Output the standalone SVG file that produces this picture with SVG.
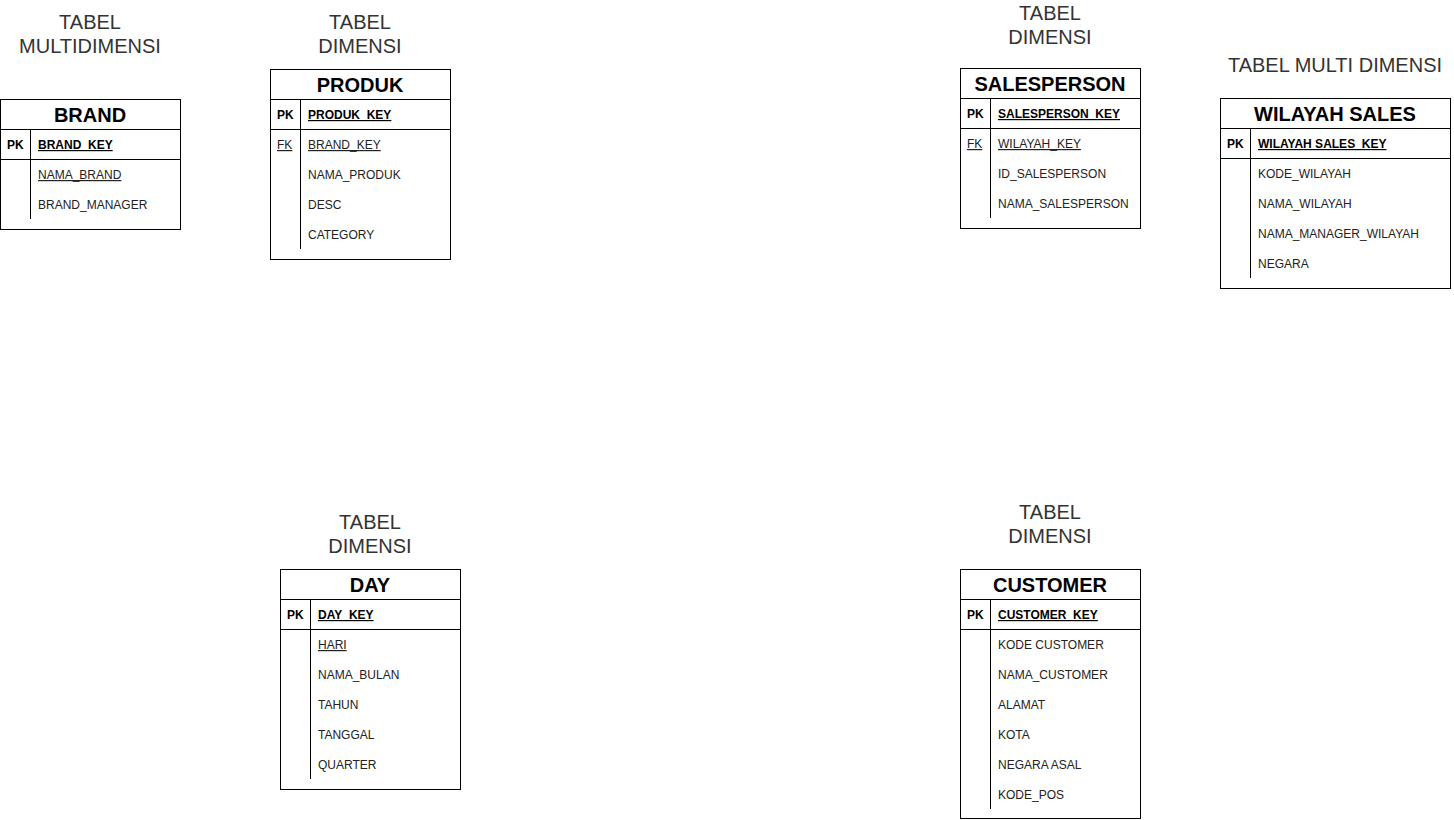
<svg xmlns="http://www.w3.org/2000/svg" width="1454" height="820" viewBox="0 0 1454 820">
<style>
.bg{fill:#fff}
.box{fill:#fff;stroke:#000;stroke-width:1}
.ln{stroke:#000;stroke-width:1;fill:none}
.hd{font-family:"Liberation Sans",Arial,sans-serif;font-size:20px;font-weight:bold;fill:#000;text-anchor:middle}
.cap{font-family:"Liberation Sans",Arial,sans-serif;font-size:20px;fill:#333;text-anchor:middle}
.k{font-family:"Liberation Sans",Arial,sans-serif;font-size:12px;fill:#000;font-weight:bold}
.pk{font-family:"Liberation Sans",Arial,sans-serif;font-size:12px;fill:#000;font-weight:bold;text-decoration:underline}
.a{font-family:"Liberation Sans",Arial,sans-serif;font-size:12px;fill:#222}
.u{text-decoration:underline}
</style>
<rect class="bg" x="0" y="0" width="1454" height="820"/>
<g id="captions">
<text class="cap" x="90" y="29">TABEL</text>
<text class="cap" x="90" y="53">MULTIDIMENSI</text>
<text class="cap" x="360" y="29">TABEL</text>
<text class="cap" x="360" y="53">DIMENSI</text>
<text class="cap" x="1050" y="20">TABEL</text>
<text class="cap" x="1050" y="44">DIMENSI</text>
<text class="cap" x="1335" y="72">TABEL MULTI DIMENSI</text>
<text class="cap" x="370" y="529">TABEL</text>
<text class="cap" x="370" y="553">DIMENSI</text>
<text class="cap" x="1050" y="519">TABEL</text>
<text class="cap" x="1050" y="543">DIMENSI</text>
</g>
<g id="brand">
<rect class="box" x="0.5" y="99.5" width="180" height="130"/>
<line class="ln" x1="0.5" y1="129.5" x2="180.5" y2="129.5"/>
<line class="ln" x1="0.5" y1="159.5" x2="180.5" y2="159.5"/>
<line class="ln" x1="30.5" y1="129.5" x2="30.5" y2="219"/>
<text class="hd" x="90" y="122">BRAND</text>
<text class="k" x="7" y="149">PK</text>
<text class="pk" x="38" y="149">BRAND_KEY</text>
<text class="a u" x="38" y="179">NAMA_BRAND</text>
<text class="a" x="38" y="209">BRAND_MANAGER</text>
</g>
<g id="produk">
<rect class="box" x="270.5" y="69.5" width="180" height="190"/>
<line class="ln" x1="270.5" y1="99.5" x2="450.5" y2="99.5"/>
<line class="ln" x1="270.5" y1="129.5" x2="450.5" y2="129.5"/>
<line class="ln" x1="300.5" y1="99.5" x2="300.5" y2="249"/>
<text class="hd" x="360" y="92">PRODUK</text>
<text class="k" x="277" y="119">PK</text>
<text class="pk" x="308" y="119">PRODUK_KEY</text>
<text class="a u" x="277" y="149">FK</text>
<text class="a u" x="308" y="149">BRAND_KEY</text>
<text class="a" x="308" y="179">NAMA_PRODUK</text>
<text class="a" x="308" y="209">DESC</text>
<text class="a" x="308" y="239">CATEGORY</text>
</g>
<g id="salesperson">
<rect class="box" x="960.5" y="68.5" width="180" height="160"/>
<line class="ln" x1="960.5" y1="98.5" x2="1140.5" y2="98.5"/>
<line class="ln" x1="960.5" y1="128.5" x2="1140.5" y2="128.5"/>
<line class="ln" x1="990.5" y1="98.5" x2="990.5" y2="218"/>
<text class="hd" x="1050" y="91">SALESPERSON</text>
<text class="k" x="967" y="118">PK</text>
<text class="pk" x="998" y="118">SALESPERSON_KEY</text>
<text class="a u" x="967" y="148">FK</text>
<text class="a u" x="998" y="148">WILAYAH_KEY</text>
<text class="a" x="998" y="178">ID_SALESPERSON</text>
<text class="a" x="998" y="208">NAMA_SALESPERSON</text>
</g>
<g id="wilayah-sales">
<rect class="box" x="1220.5" y="98.5" width="230" height="190"/>
<line class="ln" x1="1220.5" y1="128.5" x2="1450.5" y2="128.5"/>
<line class="ln" x1="1220.5" y1="158.5" x2="1450.5" y2="158.5"/>
<line class="ln" x1="1250.5" y1="128.5" x2="1250.5" y2="278"/>
<text class="hd" x="1335" y="121">WILAYAH SALES</text>
<text class="k" x="1227" y="148">PK</text>
<text class="pk" x="1258" y="148">WILAYAH SALES_KEY</text>
<text class="a" x="1258" y="178">KODE_WILAYAH</text>
<text class="a" x="1258" y="208">NAMA_WILAYAH</text>
<text class="a" x="1258" y="238">NAMA_MANAGER_WILAYAH</text>
<text class="a" x="1258" y="268">NEGARA</text>
</g>
<g id="day">
<rect class="box" x="280.5" y="569.5" width="180" height="220"/>
<line class="ln" x1="280.5" y1="599.5" x2="460.5" y2="599.5"/>
<line class="ln" x1="280.5" y1="629.5" x2="460.5" y2="629.5"/>
<line class="ln" x1="310.5" y1="599.5" x2="310.5" y2="779"/>
<text class="hd" x="370" y="592">DAY</text>
<text class="k" x="287" y="619">PK</text>
<text class="pk" x="318" y="619">DAY_KEY</text>
<text class="a u" x="318" y="649">HARI</text>
<text class="a" x="318" y="679">NAMA_BULAN</text>
<text class="a" x="318" y="709">TAHUN</text>
<text class="a" x="318" y="739">TANGGAL</text>
<text class="a" x="318" y="769">QUARTER</text>
</g>
<g id="customer">
<rect class="box" x="960.5" y="569.5" width="180" height="249"/>
<line class="ln" x1="960.5" y1="599.5" x2="1140.5" y2="599.5"/>
<line class="ln" x1="960.5" y1="629.5" x2="1140.5" y2="629.5"/>
<line class="ln" x1="990.5" y1="599.5" x2="990.5" y2="809"/>
<text class="hd" x="1050" y="592">CUSTOMER</text>
<text class="k" x="967" y="619">PK</text>
<text class="pk" x="998" y="619">CUSTOMER_KEY</text>
<text class="a" x="998" y="649">KODE CUSTOMER</text>
<text class="a" x="998" y="679">NAMA_CUSTOMER</text>
<text class="a" x="998" y="709">ALAMAT</text>
<text class="a" x="998" y="739">KOTA</text>
<text class="a" x="998" y="769">NEGARA ASAL</text>
<text class="a" x="998" y="799">KODE_POS</text>
</g>
<g id="connectors"></g>
</svg>
